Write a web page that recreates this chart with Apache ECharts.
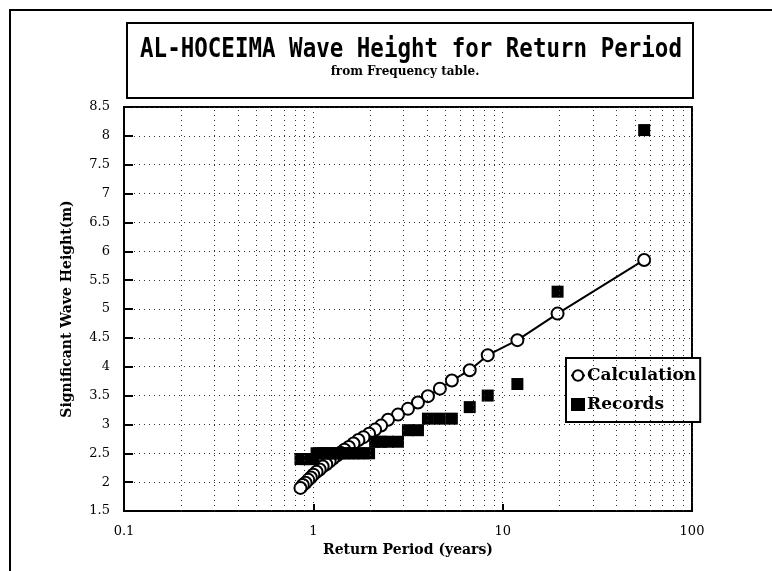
<!DOCTYPE html>
<html><head><meta charset="utf-8">
<script src="https://cdn.jsdelivr.net/npm/echarts@6/dist/echarts.min.js"></script>
<style>html,body{margin:0;padding:0;background:#fff}#c{width:772px;height:571px}</style>
</head><body><div id="c"></div>
<script>
// Return periods (years) of the ranked events
const returnPeriod = [55.9, 19.5, 11.96, 8.34, 6.7, 5.39, 4.66, 4.03, 3.57, 3.16, 2.8, 2.48,
  2.28, 2.12, 1.97, 1.84, 1.73, 1.63, 1.54, 1.46, 1.39, 1.33, 1.27, 1.22, 1.17, 1.12, 1.08,
  1.04, 1.0, 0.97, 0.94, 0.91, 0.88, 0.855];
// Calculated significant wave height (m)
const calculation = [5.85, 4.92, 4.46, 4.2, 3.94, 3.76, 3.62, 3.49, 3.38, 3.27, 3.17, 3.08,
  2.98, 2.91, 2.84, 2.78, 2.73, 2.67, 2.61, 2.56, 2.51, 2.46, 2.41, 2.36, 2.31, 2.27, 2.22,
  2.18, 2.13, 2.08, 2.04, 1.99, 1.95, 1.9];
// Recorded significant wave height (m)
const records = [8.1, 5.3, 3.7, 3.5, 3.3, 3.1, 3.1, 3.1, 2.9, 2.9, 2.7, 2.7, 2.7, 2.7,
  2.5, 2.5, 2.5, 2.5, 2.5, 2.5, 2.5, 2.5, 2.5, 2.5, 2.5, 2.5, 2.5, 2.5,
  2.4, 2.4, 2.4, 2.4, 2.4, 2.4];
// Minor log grid values on the x axis
const minorTickValues = [0.2, 0.3, 0.4, 0.5, 0.6, 0.7, 0.8, 0.9, 2, 3, 4, 5, 6, 7, 8, 9,
  20, 30, 40, 50, 60, 70, 80, 90];

const calcData = returnPeriod.map((t, i) => [t, calculation[i]]);
const recData = returnPeriod.map((t, i) => [t, records[i]]);

const chart = echarts.init(document.getElementById('c'), null, {renderer: 'canvas'});
const serif = '"DejaVu Serif", "Liberation Serif", serif';
const gridLine = {show: true, lineStyle: {color: '#333', type: [1, 4], width: 1}};

chart.setOption({
  backgroundColor: '#fff',
  animation: false,
  grid: {left: 124, right: 80, top: 107, bottom: 60, show: true, borderColor: '#000', borderWidth: 2, backgroundColor: 'transparent'},
  graphic: [
    {type: 'rect', shape: {x: 10, y: 10, width: 800, height: 600}, style: {fill: null, stroke: '#000', lineWidth: 2}, silent: true},
    {type: 'rect', shape: {x: 127, y: 23, width: 566, height: 75}, style: {fill: '#fff', stroke: '#000', lineWidth: 2}, silent: true},
    {type: 'text', x: 411, y: 50, scaleY: 1.2, silent: true,
      style: {text: 'AL-HOCEIMA Wave Height for Return Period', font: 'bold 22.5px "DejaVu Sans Mono"', align: 'center', verticalAlign: 'middle', textAlign: 'center', textVerticalAlign: 'middle', fill: '#000'}},
    {type: 'text', x: 405, y: 72, silent: true,
      style: {text: 'from Frequency table.', font: 'bold 12px ' + serif, align: 'center', verticalAlign: 'middle', textAlign: 'center', textVerticalAlign: 'middle', fill: '#000'}}
  ],
  legend: {
    data: [{name: 'Calculation'}, {name: 'Records', icon: 'rect'}],
    orient: 'vertical', left: 566, top: 358,
    backgroundColor: '#fff', borderColor: '#000', borderWidth: 2, borderRadius: 0,
    padding: [9, 4, 9, 4], itemGap: 12, itemWidth: 14, itemHeight: 13,
    textStyle: {fontFamily: serif, fontWeight: 'bold', fontSize: 17, color: '#000', padding: [0, 0, 0, -3]}
  },
  xAxis: {
    type: 'log', logBase: 10, min: 0.1, max: 100,
    name: 'Return Period (years)', nameLocation: 'middle', nameGap: 31,
    nameTextStyle: {fontFamily: serif, fontWeight: 'bold', fontSize: 14, color: '#000'},
    axisLine: {show: true, lineStyle: {color: '#000', width: 2}},
    axisTick: {show: true, inside: true, length: 7, lineStyle: {color: '#000', width: 2}},
    axisLabel: {fontFamily: serif, fontSize: 13, color: '#000', margin: 14},
    splitLine: gridLine
  },
  yAxis: {
    type: 'value', min: 1.5, max: 8.5, interval: 0.5,
    name: 'Significant Wave Height(m)', nameLocation: 'middle', nameGap: 50, nameRotate: 90,
    nameTextStyle: {fontFamily: serif, fontWeight: 'bold', fontSize: 14, color: '#000'},
    axisLine: {show: true, lineStyle: {color: '#000', width: 2}},
    axisTick: {show: true, inside: true, length: 9, lineStyle: {color: '#000', width: 2}},
    axisLabel: {fontFamily: serif, fontSize: 13, color: '#000', margin: 14},
    splitLine: gridLine
  },
  series: [
    {
      name: 'minor-grid', type: 'line', data: [], silent: true,
      markLine: {silent: true, symbol: ['none', 'none'], label: {show: false},
        lineStyle: {color: '#333', type: [1, 4], width: 1},
        data: minorTickValues.map(v => ({xAxis: v}))}
    },
    {
      name: 'Calculation', type: 'line', data: calcData, z: 3,
      symbol: 'circle', symbolSize: 12,
      lineStyle: {color: '#000', width: 2},
      itemStyle: {color: '#fff', borderColor: '#000', borderWidth: 2}
    },
    {
      name: 'Records', type: 'scatter', data: recData, z: 4,
      symbol: 'rect', symbolSize: 12,
      itemStyle: {color: '#000', opacity: 1}
    }
  ]
});
</script></body></html>
